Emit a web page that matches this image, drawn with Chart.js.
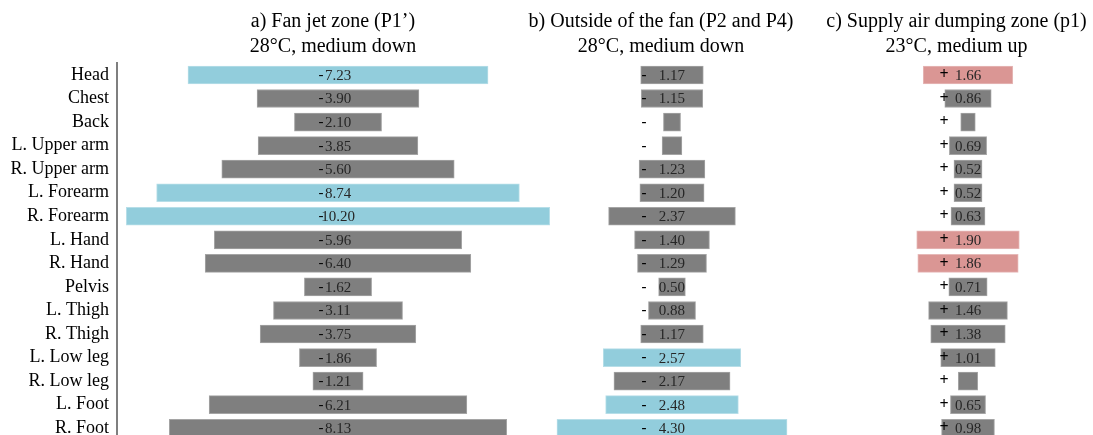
<!DOCTYPE html>
<html>
<head>
<meta charset="utf-8">
<script src="https://cdn.jsdelivr.net/npm/chart.js"></script>
<style>
  html, body { margin: 0; padding: 0; background: #fff; overflow: hidden; }
  #wrap { position: relative; width: 1093px; height: 440px; }
  #wrap canvas { position: absolute; left: 0; top: 0; }
</style>
</head>
<body>
<div id="wrap">
  <canvas id="fanJet" width="1093" height="440"></canvas>
  <canvas id="outsideFan" width="1093" height="440"></canvas>
  <canvas id="dumpingZone" width="1093" height="440"></canvas>
</div>
<script>
const bodyParts = ['Head', 'Chest', 'Back', 'L. Upper arm', 'R. Upper arm', 'L. Forearm', 'R. Forearm',
  'L. Hand', 'R. Hand', 'Pelvis', 'L. Thigh', 'R. Thigh', 'L. Low leg', 'R. Low leg', 'L. Foot', 'R. Foot'];

// magnitude of the local change per body part
const fanJet = [7.23, 3.90, 2.10, 3.85, 5.60, 8.74, 10.20, 5.96, 6.40, 1.62, 3.11, 3.75, 1.86, 1.21, 6.21, 8.13];
const outsideFan = [1.17, 1.15, 0.32, 0.37, 1.23, 1.20, 2.37, 1.40, 1.29, 0.50, 0.88, 1.17, 2.57, 2.17, 2.48, 4.30];
const dumpingZone = [1.66, 0.86, 0.27, 0.69, 0.52, 0.52, 0.63, 1.90, 1.86, 0.71, 1.46, 1.38, 1.01, 0.36, 0.65, 0.98];

// parts that stand out in each zone
const fanJetMarked = ['Head', 'L. Forearm', 'R. Forearm'];
const outsideFanMarked = ['L. Low leg', 'L. Foot', 'R. Foot'];
const dumpingZoneMarked = ['Head', 'L. Hand', 'R. Hand'];

const serif = '"Liberation Serif", "Times New Roman", serif';
const GRAY = '#7f7f7f', GRAY_EDGE = '#a5a5a5';
const BLUE = '#92cddc', BLUE_EDGE = '#b7dee8';
const PINK = '#da9694', PINK_EDGE = '#e6b9b8';

// sign + value written on each bar, value left out when the bar is too short for it
const barLabels = {
  id: 'barLabels',
  afterDatasetsDraw(chart, args, opts) {
    const ctx = chart.ctx;
    const meta = chart.getDatasetMeta(0);
    const values = chart.data.datasets[0].values;
    ctx.save();
    ctx.textBaseline = 'middle';
    ctx.textAlign = 'center';
    meta.data.forEach((bar, i) => {
      const cx = (bar.x + bar.base) / 2;
      const w = Math.abs(bar.x - bar.base);
      const txt = values[i].toFixed(2);
      ctx.font = opts.signFont;
      ctx.fillStyle = '#000';
      ctx.fillText(opts.sign, cx + opts.signOffset, bar.y);
      ctx.font = '15px ' + serif;
      if (ctx.measureText(txt).width * 0.9 <= w) {
        ctx.fillStyle = '#262626';
        ctx.fillText(txt, cx, bar.y + 1);
      }
    });
    ctx.restore();
  }
};

function makePanel(id, title, values, marked, fill, edge, xMin, xMax, padding, label, showParts) {
  const y = {
    display: showParts,
    grid: { display: false, drawTicks: false },
    border: { display: true, color: '#7f7f7f', width: 2 },
    ticks: { color: '#000', font: { family: serif, size: 18 }, padding: 8, autoSkip: false }
  };
  if (showParts) {
    // fixed label column, and no extra room kept above/below for the first and last label
    y.afterFit = scale => {
      scale.width = 117;
      scale.paddingTop = 0;
      scale.paddingBottom = 0;
    };
  }

  return new Chart(document.getElementById(id), {
    type: 'bar',
    data: {
      labels: bodyParts,
      datasets: [{
        data: values.map(v => [-v / 2, v / 2]),
        values: values,
        backgroundColor: bodyParts.map(p => marked.includes(p) ? fill : GRAY),
        borderColor: bodyParts.map(p => marked.includes(p) ? edge : GRAY_EDGE),
        borderWidth: 1,
        borderSkipped: false,
        barThickness: 18,
        clip: false
      }]
    },
    options: {
      indexAxis: 'y',
      responsive: false,
      animation: false,
      layout: { padding: padding },
      scales: {
        x: { display: false, min: xMin, max: xMax },
        y: y
      },
      plugins: {
        legend: { display: false },
        tooltip: { enabled: false },
        title: {
          display: true,
          fullSize: false,
          text: title,
          color: '#000',
          font: { family: serif, size: 20, weight: 'normal', lineHeight: 1.25 },
          padding: { top: 9.5, bottom: 3.7 }
        },
        barLabels: label
      }
    },
    plugins: [barLabels]
  });
}

makePanel('fanJet', ['a) Fan jet zone (P1\u2019)', '28\u00b0C, medium down'], fanJet, fanJetMarked,
  BLUE, BLUE_EDGE, -5.325, 5.084, { left: 0, right: 544, top: 0, bottom: 0 },
  { sign: '-', signOffset: -17, signFont: '15px ' + serif }, true);

makePanel('outsideFan', ['b) Outside of the fan (P2 and P4)', '28\u00b0C, medium down'], outsideFan, outsideFanMarked,
  BLUE, BLUE_EDGE, -2.822, 2.411, { left: 521, right: 292, top: 0, bottom: 0 },
  { sign: '-', signOffset: -28, signFont: 'bold 15px ' + serif }, false);

makePanel('dumpingZone', ['c) Supply air dumping zone (p1)', '23\u00b0C, medium up'], dumpingZone, dumpingZoneMarked,
  PINK, PINK_EDGE, -2.741, 2.315, { left: 820, right: 0, top: 0, bottom: 0 },
  { sign: '+', signOffset: -24, signFont: 'bold 16px ' + serif }, false);
</script>
</body>
</html>
